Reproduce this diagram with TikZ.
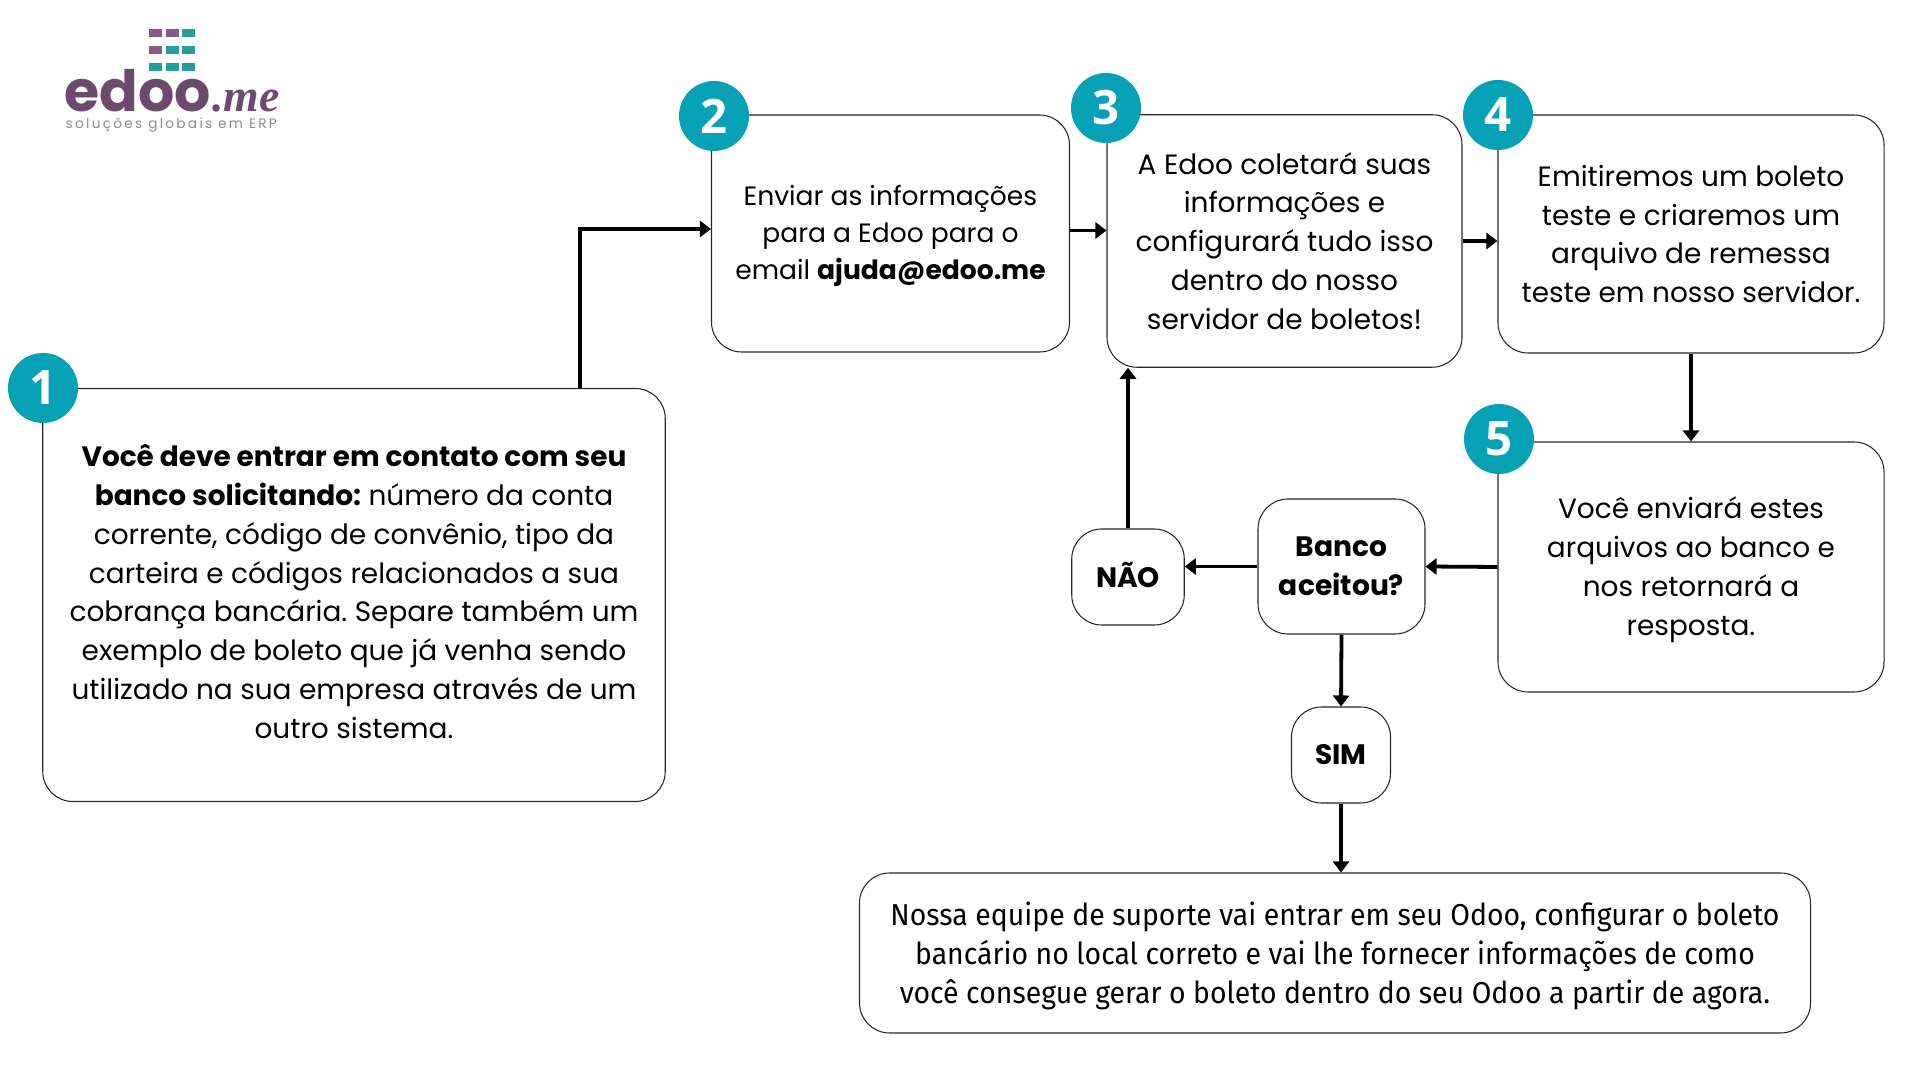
\documentclass[tikz,border=0pt]{standalone}
\usepackage{fontspec}
\setmainfont{Poppins}
\frenchspacing
\newfontfamily\badgefont{Open Sans}
\newfontfamily\finalfont[FakeStretch=0.94]{Fira Sans}
\newfontfamily\mefont{Liberation Serif}
\newfontfamily\sloganfont[LetterSpace=16.5]{Poppins}
\usetikzlibrary{arrows.meta}
\definecolor{edooteal}{HTML}{07A1B6}
\definecolor{logopurple}{HTML}{8A5A85}
\definecolor{logogreen}{HTML}{279C98}
\definecolor{logotext}{HTML}{6C4A6C}
\definecolor{slogangray}{HTML}{8C8C8C}
\newcommand\pushdown[1]{\rule{0pt}{#1}}
\newcommand\pushup[1]{\rule[-#1]{0pt}{0pt}}
\tikzset{
	textbox/.style={draw=black!85, line width=0.3pt, rounded corners=0.3cm, inner sep=0, align=center, font=\fontsize{7.95}{11.05}\selectfont},
	smallbox/.style={textbox, font=\fontsize{8}{11.05}\selectfont\bfseries},
	badge/.style={circle, fill=edooteal, text=white, minimum size=0.7cm, inner sep=0, font=\badgefont\fontsize{13.5}{14}\selectfont\bfseries},
	flow/.style={line width=0.38mm, -{Triangle[width=1.6mm, length=1.1mm]}}
}

\begin{document}
\begin{tikzpicture}
		\useasboundingbox (0, 0) rectangle (19.2, 10.8);
		
		%%%%% LOGO %%%%%
		\foreach \x/\y/\c in {1.49/10.51/logopurple, 1.66/10.51/logopurple, 1.82/10.51/logogreen,
			1.49/10.34/logopurple, 1.66/10.34/logogreen, 1.82/10.34/logogreen,
			1.49/10.17/logogreen, 1.66/10.17/logogreen, 1.82/10.17/logogreen}
			\fill[\c] (\x, \y) rectangle ++(0.13, -0.085);
		\node[anchor=base west, inner sep=0, text=logotext, font=\fontsize{16.2}{17}\selectfont\bfseries] (logoname) at (0.64, 9.68) {edoo};
		\node[anchor=base west, inner sep=0, text=logotext, font=\mefont\fontsize{13}{14}\selectfont\bfseries\itshape] (logome) at (logoname.base east) {.me};
		\node[anchor=base west, inner sep=0, text=slogangray, font=\sloganfont\fontsize{3.9}{4}\selectfont] (logoslogan) at (0.65, 9.51) {soluções globais em ERP};
		
		%%%%% BOXES %%%%%
		\node[textbox, minimum width=6.225cm, minimum height=4.13cm] (box1) at (3.54, 4.85) {\textbf{Você deve entrar em contato com seu}\\\textbf{banco solicitando:} número da conta\\corrente, código de convênio, tipo da\\carteira e códigos relacionados a sua\\cobrança bancária. Separe também um\\exemplo de boleto que já venha sendo\\utilizado na sua empresa através de um\\outro sistema.\pushup{2.1pt}};
		\node[textbox, minimum width=3.58cm, minimum height=2.37cm, font=\fontsize{7.55}{10.55}\selectfont] (box2) at (8.905, 8.465) {\pushdown{7.3pt}Enviar as informações\\para a Edoo para o\\email \textbf{ajuda@edoo.me}};
		\node[textbox, minimum width=3.55cm, minimum height=2.525cm] (box3) at (12.845, 8.39) {A Edoo coletará suas\\informações e\\configurará tudo isso\\dentro do nosso\\servidor de boletos!};
		\node[textbox, minimum width=3.86cm, minimum height=2.38cm] (box4) at (16.91, 8.46) {Emitiremos um boleto\\teste e criaremos um\\arquivo de remessa\\teste em nosso servidor.};
		\node[textbox, minimum width=3.86cm, minimum height=2.5cm] (box5) at (16.91, 5.13) {\pushdown{7.7pt}Você enviará estes\\arquivos ao banco e\\nos retornará a\\resposta.};
		\node[smallbox, minimum width=1.67cm, minimum height=1.35cm] (banco) at (13.415, 5.135) {Banco\\aceitou?};
		\node[smallbox, minimum width=1.125cm, minimum height=0.96cm] (nao) at (11.28, 5.03) {NÃO\pushup{1.4pt}};
		\node[smallbox, minimum width=0.99cm, minimum height=0.96cm] (sim) at (13.41, 3.25) {SIM};
		\node[textbox, minimum width=9.51cm, minimum height=1.6cm, font=\finalfont\fontsize{8.6}{11.05}\selectfont] (final) at (13.35, 1.27) {\pushdown{8.2pt}Nossa equipe de suporte vai entrar em seu Odoo, configurar o boleto\\bancário no local correto e vai lhe fornecer informações de como\\você consegue gerar o boleto dentro do seu Odoo a partir de agora.};
		
		%%%%% ARROWS %%%%%
		\draw[flow] ([xshift=2.26cm]box1.north) |- ([yshift=0.045cm]box2.west);
		\draw[flow] ([yshift=0.03cm]box2.east) -- ([yshift=0.03cm]box2.east -| box3.west);
		\draw[flow] (box3.east) -- (box3.east -| box4.west);
		\draw[flow] (box4.south) -- (box5.north);
		\draw[flow] (box5.west) -- (banco.east);
		\draw[flow] (banco.west) -- (banco.west -| nao.east);
		\draw[flow] (nao.north) -- (nao.north |- box3.south);
		\draw[flow] (banco.south) -- (sim.north);
		\draw[flow] (sim.south) -- (sim.south |- final.north);
		
		%%%%% NUMBERS %%%%%
		\node[badge] (num1) at (0.43, 6.92) {1};
		\node[badge] (num2) at (7.14, 9.64) {2};
		\node[badge] (num3) at (11.06, 9.72) {3};
		\node[badge] (num4) at (14.98, 9.65) {4};
		\node[badge] (num5) at (14.99, 6.41) {5};
	\end{tikzpicture}
\end{document}
